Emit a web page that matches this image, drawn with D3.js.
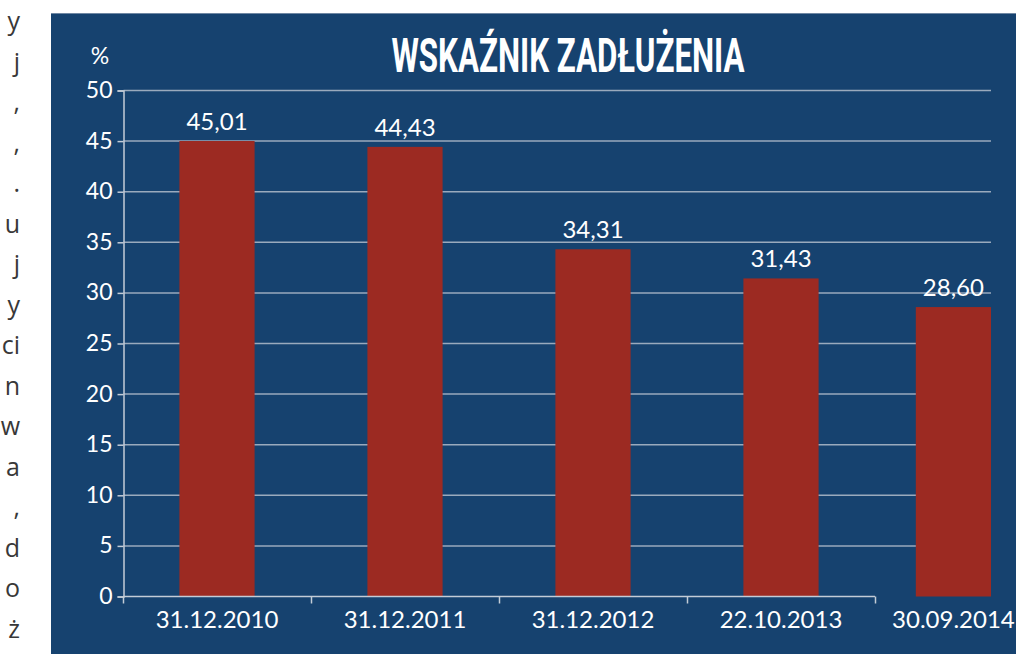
<!DOCTYPE html>
<html>
<head>
<meta charset="utf-8">
<script src="https://cdn.jsdelivr.net/npm/d3@7"></script>
<style>
  html, body { margin: 0; padding: 0; background: #fff; }
  svg { display: block; }
</style>
</head>
<body>
<div class="chart"></div>
<script>
const width = 1016;
const height = 654;

// data
const categories = ["31.12.2010", "31.12.2011", "31.12.2012", "22.10.2013", "30.09.2014"];
const values = [45.01, 44.43, 34.31, 31.43, 28.60];
const valueLabels = ["45,01", "44,43", "34,31", "31,43", "28,60"];
const yTicks = [0, 5, 10, 15, 20, 25, 30, 35, 40, 45, 50];
// cut-off text of the neighbouring article column
const sideText = ["y", "j", ",", ",", ".", "u", "j", "y", "ci", "n", "w", "a", ",", "d", "o", "ż"];

const panelColor = "#16426f";
const barColor = "#9c2a22";
const gridColor = "#9aaabd";
const axisColor = "#c3ccd7";
const font = "Lato, 'Open Sans', sans-serif";

const svg = d3.select(".chart")
   .append("svg")
   .attr("width", width)
   .attr("height", height);

// side column text
svg.append("g")
   .selectAll("text")
   .data(sideText)
   .enter().append("text")
   .attr("x", 20)
   .attr("y", (d, i) => 30 + i * 40.5)
   .attr("text-anchor", "end")
   .attr("font-family", "'Open Sans', sans-serif")
   .attr("font-size", 25)
   .attr("fill", "#383838")
   .text(d => d);

// panel
svg.append("rect")
   .attr("x", 51).attr("y", 13)
   .attr("width", width - 51).attr("height", height - 13)
   .attr("fill", panelColor);
svg.append("line")
   .attr("x1", 51).attr("x2", width)
   .attr("y1", 13.5).attr("y2", 13.5)
   .attr("stroke", "#6f87a3").attr("stroke-width", 1);

// title
svg.append("text")
   .attr("x", 568)
   .attr("y", 72)
   .attr("text-anchor", "middle")
   .attr("font-family", "Roboto, 'DejaVu Sans', sans-serif")
   .attr("font-weight", 700)
   .attr("font-size", 49)
   .attr("textLength", 353)
   .attr("lengthAdjust", "spacingAndGlyphs")
   .attr("fill", "#ffffff")
   .text("WSKAŹNIK ZADŁUŻENIA");

// scales
const y = d3.scaleLinear().domain([0, 50]).range([596.5, 90.5]);
const x = d3.scaleBand()
   .domain(categories)
   .range([123, 1063])
   .paddingInner(0.6)
   .paddingOuter(0.3);
const bw = x.bandwidth();
const gridRight = 991;
const axisLeftX = 123.5;
// last category is squeezed into the visible panel
const center = (d) => Math.min(x(d) + bw / 2, gridRight - bw / 2);

// gridlines
svg.append("g")
   .selectAll("line")
   .data(yTicks.filter(t => t > 0))
   .enter().append("line")
   .attr("x1", axisLeftX).attr("x2", gridRight)
   .attr("y1", d => y(d)).attr("y2", d => y(d))
   .attr("stroke", gridColor)
   .attr("stroke-width", 1.5);

// bars
svg.append("g")
   .selectAll("rect")
   .data(values)
   .enter().append("rect")
   .attr("x", (d, i) => center(categories[i]) - bw / 2)
   .attr("y", d => y(d))
   .attr("width", bw)
   .attr("height", d => y(0) - y(d))
   .attr("fill", barColor);

// value labels
svg.append("g")
   .selectAll("text")
   .data(values)
   .enter().append("text")
   .attr("x", (d, i) => center(categories[i]))
   .attr("y", d => y(d) - 11)
   .attr("text-anchor", "middle")
   .attr("font-family", font)
   .attr("font-size", 24)
   .attr("fill", "#ffffff")
   .text((d, i) => valueLabels[i]);

// y axis
const yAxis = d3.axisLeft(y).tickValues(yTicks).tickSize(6).tickPadding(5);
const yG = svg.append("g")
   .attr("transform", `translate(${axisLeftX},0)`)
   .call(yAxis);
yG.select(".domain").attr("stroke", axisColor).attr("stroke-width", 1.5);
yG.selectAll(".tick line").attr("stroke", axisColor).attr("stroke-width", 1.5);
yG.selectAll(".tick text")
   .attr("font-family", font)
   .attr("font-size", 23)
   .attr("fill", "#ffffff")
   .attr("dy", "0.3em");

svg.append("text")
   .attr("x", 100)
   .attr("y", 64)
   .attr("text-anchor", "middle")
   .attr("font-family", font)
   .attr("font-size", 23)
   .attr("fill", "#ffffff")
   .text("%");

// x axis
const step = x.step();
const boundaries = d3.range(categories.length).map(i => x.range()[0] + i * step);
const xG = svg.append("g");
xG.append("line")
   .attr("x1", axisLeftX).attr("x2", boundaries[boundaries.length - 1])
   .attr("y1", y(0)).attr("y2", y(0))
   .attr("stroke", axisColor).attr("stroke-width", 1.5);
xG.selectAll(".xtick")
   .data(boundaries)
   .enter().append("line")
   .attr("class", "xtick")
   .attr("x1", d => d + 0.5).attr("x2", d => d + 0.5)
   .attr("y1", y(0)).attr("y2", y(0) + 7)
   .attr("stroke", axisColor).attr("stroke-width", 1.5);
xG.selectAll(".xlabel")
   .data(categories)
   .enter().append("text")
   .attr("class", "xlabel")
   .attr("x", d => center(d))
   .attr("y", 628)
   .attr("text-anchor", "middle")
   .attr("font-family", font)
   .attr("font-size", 24)
   .attr("fill", "#ffffff")
   .text(d => d);
</script>
</body>
</html>
